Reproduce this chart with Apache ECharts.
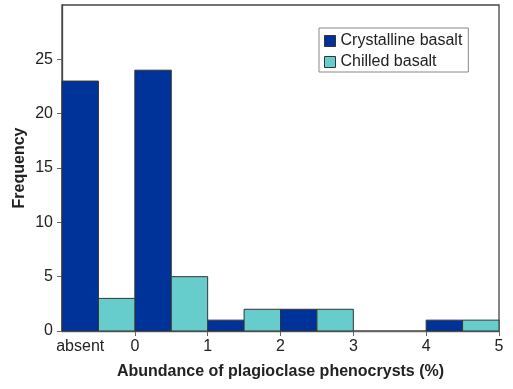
<!DOCTYPE html>
<html>
<head>
<meta charset="utf-8">
<script src="https://cdn.jsdelivr.net/npm/echarts@6/dist/echarts.min.js"></script>
<style>
html,body{margin:0;padding:0;background:#fff;}
#chart{width:513px;height:389px;}
</style>
</head>
<body>
<div id="chart"></div>
<script>
// Histogram bins (abundance of plagioclase phenocrysts, %); "absent" occupies [-1, 0)
const binWidth = 0.5;
const crystallineBinStart = [-1, 0, 1, 2, 3, 4];
const crystallineCounts   = [23, 24, 1, 2, 0, 1];
const chilledBinStart     = [-0.5, 0.5, 1.5, 2.5, 3.5, 4.5];
const chilledCounts       = [3, 5, 2, 2, 0, 1];
const xLabelValues = [-0.75, 0, 1, 2, 3, 4, 5];
const xLabelTexts  = ['absent', '0', '1', '2', '3', '4', '5'];
const xTickValues  = [0, 1, 2, 3, 4, 5];
const yTicks = [0, 5, 10, 15, 20, 25];

const FONT = '"Liberation Sans", Arial, Helvetica, sans-serif';

function makeData(starts, counts) {
  return starts.map((s, i) => [s, s + binWidth, counts[i]]);
}
function renderBar(params, api) {
  const v = api.value(2);
  if (!v) return null;
  const p0 = api.coord([api.value(0), v]);
  const p1 = api.coord([api.value(1), 0]);
  return {
    type: 'rect',
    shape: { x: p0[0], y: p0[1], width: p1[0] - p0[0], height: p1[1] - p0[1] },
    style: api.style({ stroke: '#333', lineWidth: 1 })
  };
}

const chart = echarts.init(document.getElementById('chart'), null, { renderer: 'canvas' });
chart.setOption({
  animation: false,
  backgroundColor: '#fff',
  textStyle: { fontFamily: FONT },
  grid: { left: 62, top: 5, width: 437, height: 326, show: true, borderColor: '#444', borderWidth: 1.3, backgroundColor: 'transparent' },
  legend: {
    left: 319, top: 28,
    orient: 'vertical',
    backgroundColor: '#fff',
    borderColor: '#888', borderWidth: 1,
    padding: [4, 6, 1, 5],
    itemGap: 3,
    itemWidth: 11, itemHeight: 11,
    icon: 'rect',
    textStyle: { fontSize: 16, color: '#222', fontFamily: FONT, lineHeight: 18 },
    data: [
      { name: 'Crystalline basalt', itemStyle: { color: '#003399', borderColor: '#333', borderWidth: 1 } },
      { name: 'Chilled basalt', itemStyle: { color: '#66CCCC', borderColor: '#333', borderWidth: 1 } }
    ]
  },
  xAxis: {
    type: 'value', min: -1, max: 5, interval: 1,
    name: 'Abundance of plagioclase phenocrysts (%)',
    nameLocation: 'middle', nameGap: 33,
    nameTextStyle: { fontSize: 16, fontWeight: 'bold', color: '#222', fontFamily: FONT },
    axisLine: { onZero: false, lineStyle: { color: '#666', width: 1.3 } },
    axisTick: { show: true, length: 5, lineStyle: { color: '#666' }, customValues: xTickValues },
    axisLabel: {
      fontSize: 16, color: '#222', margin: 8, fontFamily: FONT,
      customValues: xLabelValues,
      formatter: v => { const i = xLabelValues.indexOf(v); return i >= 0 ? xLabelTexts[i] : ''; }
    },
    splitLine: { show: false }
  },
  yAxis: {
    type: 'value', min: 0, max: 30, interval: 5,
    name: 'Frequency',
    nameLocation: 'middle', nameGap: 34, nameMoveOverlap: false,
    nameTextStyle: { fontSize: 16, fontWeight: 'bold', color: '#222', fontFamily: FONT },
    axisLine: { show: true, onZero: false, lineStyle: { color: '#444', width: 1.3 } },
    axisTick: { show: true, length: 5, lineStyle: { color: '#666' }, customValues: yTicks },
    axisLabel: {
      fontSize: 16, color: '#222', margin: 9, fontFamily: FONT,
      customValues: yTicks
    },
    splitLine: { show: false }
  },
  series: [
    {
      name: 'Crystalline basalt', type: 'custom', renderItem: renderBar,
      itemStyle: { color: '#003399' },
      encode: { x: [0, 1], y: 2 },
      data: makeData(crystallineBinStart, crystallineCounts)
    },
    {
      name: 'Chilled basalt', type: 'custom', renderItem: renderBar,
      itemStyle: { color: '#66CCCC' },
      encode: { x: [0, 1], y: 2 },
      data: makeData(chilledBinStart, chilledCounts)
    }
  ]
});
</script>
</body>
</html>
